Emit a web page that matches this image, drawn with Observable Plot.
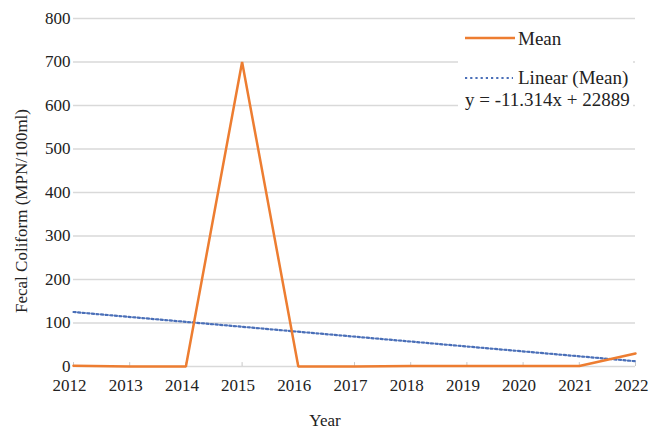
<!DOCTYPE html>
<html>
<head>
<meta charset="utf-8">
<script src="https://cdn.jsdelivr.net/npm/d3@7"></script>
<script src="https://cdn.jsdelivr.net/npm/@observablehq/plot@0.6"></script>
<style>
  html, body { margin: 0; padding: 0; background: #fff; }
  #chart { width: 662px; height: 431px; }
</style>
</head>
<body>
<div id="chart"></div>
<script>
const years = [2012, 2013, 2014, 2015, 2016, 2017, 2018, 2019, 2020, 2021, 2022];
const meanValues = [2, 0, 0, 700, 0, 0, 1, 1, 1, 1, 30];
const yTicks = [0, 100, 200, 300, 400, 500, 600, 700, 800];
const trendSlope = -11.314;
const trendIntercept = 22889;
const seriesName = "Mean";
const trendName = "Linear (Mean)";
const equationText = "y = -11.314x + 22889";
const xTitle = "Year";
const yTitle = "Fecal Coliform (MPN/100ml)";

const meanData = years.map((y, i) => ({year: y, value: meanValues[i]}));
const trendEnds = [years[0], years[years.length - 1]];
const trendData = trendEnds.map(y => ({year: y, value: trendSlope * y + trendIntercept}));

const font = "Liberation Serif";
const fs = 17;
const legendFs = 19;
const trendColor = "#4a6fb8";
const meanColor = "#ED7D31";

const chart = Plot.plot({
  width: 662,
  height: 431,
  marginLeft: 73,
  marginRight: 27,
  marginTop: 18,
  marginBottom: 65,
  style: {fontFamily: font, fontSize: fs + "px", color: "#222", background: "white", overflow: "visible"},
  x: {domain: [2012, 2022], label: null},
  y: {domain: [0, 800], label: null},
  marks: [
    Plot.ruleY(yTicks, {stroke: "#d9d9d9", strokeWidth: 1.5}),
    Plot.ruleX(years, {x: d => d, y1: 0, y2: 9, stroke: "#c8c8c8", strokeWidth: 1}),
    Plot.axisY({ticks: yTicks, tickSize: 0, tickPadding: 3, label: null, fill: "#222", fontFamily: font, fontSize: fs}),
    Plot.axisX({ticks: years, tickSize: 0, tickPadding: 12, dx: -4, tickFormat: d => String(d), label: null, fill: "#222", fontFamily: font, fontSize: fs}),
    Plot.line(trendData, {x: "year", y: "value", stroke: trendColor, strokeWidth: 2.2, strokeDasharray: "2.2,2.4"}),
    Plot.line(meanData, {x: "year", y: "value", stroke: meanColor, strokeWidth: 2.5, strokeLinejoin: "miter"})
  ]
});

document.getElementById("chart").appendChild(chart);

const svg = d3.select(chart);
function addText(sel, x, y, str, anchor, size) {
  return sel.append("text")
    .attr("x", x).attr("y", y)
    .attr("text-anchor", anchor)
    .attr("font-family", font).attr("font-size", size).attr("fill", "#222")
    .text(str);
}
// Axis titles
svg.append("text")
  .attr("transform", "translate(27,211) rotate(-90)")
  .attr("text-anchor", "middle")
  .attr("font-family", font).attr("font-size", fs).attr("fill", "#222")
  .text(yTitle);
addText(svg, 325, 426, xTitle, "middle", fs);

// Legend
const lg = svg.append("g");
lg.append("rect").attr("x", 458).attr("y", 22).attr("width", 175).attr("height", 93).attr("fill", "white");
lg.append("line").attr("x1", 465).attr("x2", 515).attr("y1", 38).attr("y2", 38)
  .attr("stroke", meanColor).attr("stroke-width", 2.5);
addText(lg, 518, 45, seriesName, "start", legendFs);
lg.append("line").attr("x1", 465).attr("x2", 513).attr("y1", 78).attr("y2", 78)
  .attr("stroke", trendColor).attr("stroke-width", 2.2).attr("stroke-dasharray", "2.2,3");
addText(lg, 518, 84, trendName, "start", legendFs);
addText(lg, 465, 106, equationText, "start", legendFs);
</script>
</body>
</html>
